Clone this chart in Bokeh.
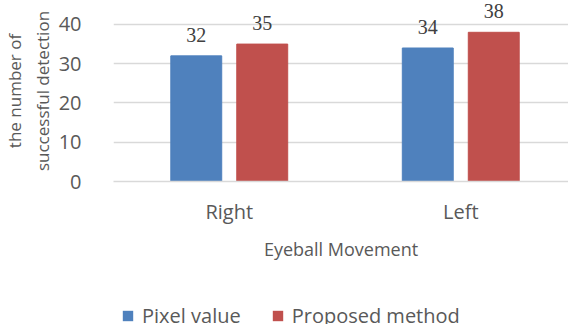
from bokeh.plotting import figure
from bokeh.layouts import column
from bokeh.models import (ColumnDataSource, Range1d, FixedTicker, LabelSet,
                          Legend, LegendItem)
from bokeh.transform import dodge
from bokeh.embed import file_html
from bokeh.resources import INLINE

categories = ["Right", "Left"]
pixel_value = [32, 34]
proposed_method = [35, 38]
y_ticks = [0, 10, 20, 30, 40]
series_names = ["Pixel value", "Proposed method"]

FONT = "Open Sans"
TEXT = "#595959"
BLUE = "#4F81BD"
RED = "#C0504D"
GRID = "#D9D9D9"

xs = [i + 0.5 for i in range(len(categories))]
src = ColumnDataSource(dict(
    x=xs, cat=categories,
    pv=pixel_value, pm=proposed_method,
    pv_t=[str(v) for v in pixel_value], pm_t=[str(v) for v in proposed_method],
))

p = figure(width=568, frame_width=455, frame_height=181,
           output_backend="svg", toolbar_location=None,
           x_range=Range1d(0, 1.9654), y_range=Range1d(0, 46.1),
           min_border_left=113, min_border_right=0, min_border_top=0,
           min_border_bottom=100, outline_line_color=None,
           background_fill_color="white", border_fill_color="white")

bw = 0.22
off = 0.1425
p.vbar(x=dodge("x", -off, range=p.x_range), top="pv", width=bw, source=src,
       fill_color=BLUE, line_color=BLUE)
p.vbar(x=dodge("x", off, range=p.x_range), top="pm", width=bw, source=src,
       fill_color=RED, line_color=RED)

for col, t, o in (("pv", "pv_t", -off), ("pm", "pm_t", off)):
    lbl = LabelSet(x=dodge("x", o, range=p.x_range), y=col, text=t, source=src,
                   text_align="center", text_baseline="alphabetic", y_offset=14,
                   text_font=FONT, text_font_size="20px", text_color="#404040")
    p.add_layout(lbl)

# axes
p.xaxis.ticker = FixedTicker(ticks=xs)
p.xaxis.major_label_overrides = {x: c for x, c in zip(xs, categories)}
p.xaxis.major_label_text_font = FONT
p.xaxis.major_label_text_font_size = "20px"
p.xaxis.major_label_text_color = TEXT
p.xaxis.major_label_standoff = 10
p.xaxis.axis_label = "Eyeball Movement"
p.xaxis.axis_label_text_font = FONT
p.xaxis.axis_label_text_font_size = "18px"
p.xaxis.axis_label_text_font_style = "normal"
p.xaxis.axis_label_text_color = TEXT
p.xaxis.axis_label_standoff = 9
p.xaxis.axis_line_color = GRID
p.xaxis.axis_line_width = 1.5
p.xaxis.major_tick_line_color = None
p.xaxis.minor_tick_line_color = None

p.yaxis.ticker = FixedTicker(ticks=y_ticks)
p.yaxis.major_label_text_font = FONT
p.yaxis.major_label_text_font_size = "20px"
p.yaxis.major_label_text_color = TEXT
p.yaxis.major_label_standoff = 26
p.yaxis.axis_label = "the number of\nsuccessful detection"
p.yaxis.axis_label_text_font = FONT
p.yaxis.axis_label_text_font_size = "17px"
p.yaxis.axis_label_text_font_style = "normal"
p.yaxis.axis_label_text_color = TEXT
p.yaxis.axis_label_standoff = 2
p.yaxis.axis_line_color = None
p.yaxis.major_tick_line_color = None
p.yaxis.minor_tick_line_color = None

p.xgrid.grid_line_color = None
p.ygrid.grid_line_color = GRID
p.ygrid.grid_line_width = 1.5

# legend strip (its bars lie far below its visible y range; only the legend shows)
lg = figure(frame_width=568, frame_height=43, output_backend="svg",
            toolbar_location=None, x_axis_type=None, y_axis_type=None,
            min_border_left=0, min_border_right=0, min_border_top=0,
            min_border_bottom=0, outline_line_color=None,
            x_range=Range1d(0, 1.9654), y_range=Range1d(1000, 1001))
lg.xgrid.grid_line_color = None
lg.ygrid.grid_line_color = None
g1 = lg.vbar(x="x", top="pv", width=bw, source=src, fill_color=BLUE, line_color=None)
g2 = lg.vbar(x="x", top="pm", width=bw, source=src, fill_color=RED, line_color=None)

legend = Legend(items=[LegendItem(label=series_names[0], renderers=[g1]),
                       LegendItem(label=series_names[1], renderers=[g2])],
                orientation="horizontal", location=(121, -5),
                label_text_font=FONT, label_text_font_size="20px",
                label_text_color=TEXT, glyph_width=13, glyph_height=13,
                label_standoff=8, spacing=30, padding=0, margin=0,
                border_line_color=None, background_fill_alpha=0)
lg.add_layout(legend, "center")

layout = column(p, lg, spacing=0)
open("out.html", "w").write(file_html(layout, INLINE))
